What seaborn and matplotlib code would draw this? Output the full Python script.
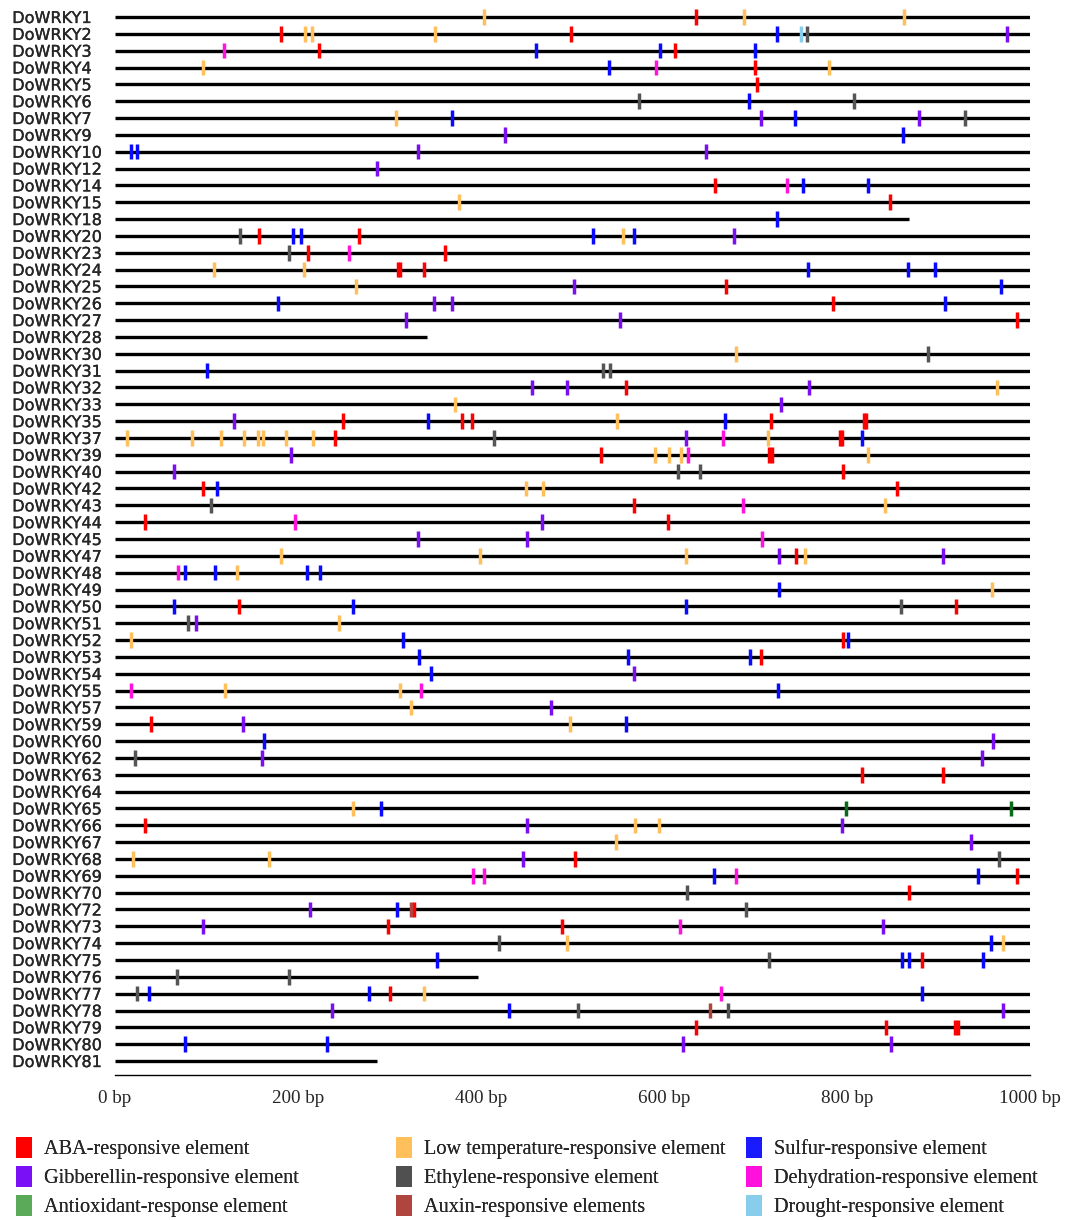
import numpy as np
import pandas as pd
import matplotlib
matplotlib.use("Agg")
import matplotlib.pyplot as plt
import matplotlib.patheffects as pe
from matplotlib.patches import Patch
import seaborn as sns

sns.set_style("white")
plt.rcParams['font.family'] = ['Liberation Serif', 'DejaVu Serif']

genes = [1, 2, 3, 4, 5, 6, 7, 9, 10, 12, 14, 15, 18, 20, 23, 24, 25, 26, 27, 28,
         30, 31, 32, 33, 35, 37, 39, 40, 42, 43, 44, 45, 47, 48, 49, 50, 51, 52,
         53, 54, 55, 57, 59, 60, 62, 63, 64, 65, 66, 67, 68, 69, 70, 72, 73, 74,
         75, 76, 77, 78, 79, 80, 81]
# promoter length (bp), 1000 unless listed
short_len = {18: 868, 28: 341, 76: 397, 81: 286}

# element positions (bp) per gene
aba = {1: [635], 2: [181, 498], 3: [223, 612], 4: [699], 5: [702], 14: [656],
       15: [847], 20: [157, 267], 23: [211, 361], 24: [309, 312, 338], 25: [668],
       26: [785], 27: [986], 32: [558], 35: [249, 379, 390, 717, 819, 821],
       37: [240, 792, 795], 39: [531, 715, 718], 40: [796], 42: [96, 855],
       43: [567], 44: [33, 604], 47: [744], 50: [136, 919], 52: [796], 53: [706],
       59: [39], 63: [816, 905], 66: [33], 68: [503], 69: [986], 70: [868],
       72: [327], 73: [298, 488], 75: [882], 77: [301], 79: [635, 843, 918, 921]}
low_temp = {1: [403, 687, 862], 2: [208, 215, 350], 4: [96, 780], 7: [307],
            15: [376], 20: [555], 24: [108, 207], 25: [263], 30: [679], 32: [964],
            33: [372], 35: [549],
            37: [13, 84, 116, 141, 156, 162, 187, 216, 714],
            39: [590, 606, 619, 823], 42: [449, 468], 43: [841],
            47: [181, 399, 624, 754], 48: [133], 49: [958], 51: [245], 52: [17],
            55: [120, 312], 57: [323], 59: [497], 65: [260], 66: [568, 595],
            67: [548], 68: [20, 168], 74: [494, 970], 77: [338]}
sulfur = {2: [723], 3: [460, 596, 699], 4: [540], 6: [693], 7: [368, 743], 9: [861],
          10: [17, 24], 14: [752, 823], 18: [724], 20: [194, 203, 522, 567],
          24: [757, 867, 896], 25: [968], 26: [178, 907], 31: [100], 35: [342, 667],
          37: [816], 42: [112], 48: [77, 109, 210, 224], 49: [726],
          50: [64, 260, 624], 52: [315, 801], 53: [332, 561, 694], 54: [345],
          55: [725], 59: [558], 60: [163], 65: [291], 69: [655, 943], 72: [308],
          74: [957], 75: [352, 860, 868, 949], 77: [37, 278, 882], 78: [431],
          80: [77, 232]}
gibberellin = {2: [975], 7: [706, 879], 9: [426], 10: [331, 646], 12: [286], 20: [676],
               25: [502], 26: [349, 368], 27: [318, 552], 32: [456, 494, 759],
               33: [728], 35: [130], 37: [624], 39: [192], 40: [64], 44: [467],
               45: [331, 450], 47: [726, 905], 51: [89], 54: [567], 57: [477],
               59: [140], 60: [960], 62: [161, 948], 66: [450, 795], 67: [936],
               68: [446], 72: [213], 73: [96, 839], 78: [237, 971], 80: [621, 848]}
ethylene = {2: [756], 6: [573, 808], 7: [929], 20: [137], 23: [190], 30: [888],
            31: [533, 541], 37: [414], 40: [615, 639], 43: [105], 50: [859],
            51: [80], 62: [22], 68: [966], 70: [625], 72: [690], 74: [420],
            75: [715], 76: [68, 190], 77: [24], 78: [506, 670]}
dehydration = {3: [119], 4: [591], 14: [734], 23: [256], 37: [664], 39: [626],
               43: [686], 44: [197], 45: [707], 48: [69], 55: [17, 334],
               69: [391, 403, 679], 73: [618], 77: [662]}
antioxidant = {65: [799, 979]}
auxin = {72: [323], 78: [650]}
drought = {2: [750]}

element_names = ["ABA-responsive element", "Low temperature-responsive element",
                 "Sulfur-responsive element", "Gibberellin-responsive element",
                 "Ethylene-responsive element", "Dehydration-responsive element",
                 "Antioxidant-response element", "Auxin-responsive elements",
                 "Drought-responsive element"]
element_sites = [aba, low_temp, sulfur, gibberellin, ethylene, dehydration,
                 antioxidant, auxin, drought]
legend_colors = ["#ff0000", "#ffc05c", "#1a1aff", "#7a10f5", "#505050",
                 "#ff10dc", "#5aaa5a", "#b0443e", "#88cdeb"]
mark_colors = ["#ff0000", "#ffbf5a", "#0a0aff", "#7b0ff2", "#555555",
               "#ff14dd", "#0b6a1a", "#b0443e", "#88cdeb"]

# ---- tidy table ----
row_of = {g: i for i, g in enumerate(genes)}
recs = []
for name, sites in zip(element_names, element_sites):
    for g, plist in sites.items():
        for p in plist:
            recs.append((row_of[g], p, name))
df = pd.DataFrame(recs, columns=["row", "pos", "element"])
gene_df = pd.DataFrame({"row": range(len(genes)),
                        "length": [short_len.get(g, 1000) for g in genes]})

W, H = 1075, 1220
fig = plt.figure(figsize=(W / 100, H / 100), dpi=100)
ax = fig.add_axes([115 / W, 1 - 1075 / H, 915 / W, (1075 - 6.9) / H])

ax.hlines(gene_df["row"], 0, gene_df["length"], color="black", lw=2.4, zorder=1)
sns.scatterplot(data=df, x="pos", y="row", hue="element",
                palette=dict(zip(element_names, mark_colors)),
                marker="|", s=125, linewidth=2.5, legend=False, ax=ax, zorder=3)

ax.set_xlim(0, 1000)
ax.set_ylim(62.83, -0.6)
ax.set_xticks(range(0, 1001, 200), [f"{v} bp" for v in range(0, 1001, 200)])
ax.set_yticks(range(len(genes)), [f"DoWRKY{g}" for g in genes])
for lab in ax.get_yticklabels():
    lab.set_fontfamily("DejaVu Sans")
    lab.set_fontsize(11.6)
    lab.set_horizontalalignment("left")
    lab.set_path_effects([pe.withStroke(linewidth=0.2, foreground="#111111")])
ax.tick_params(axis="y", length=0, pad=74)
ax.tick_params(axis="x", length=5, width=1, direction="out", labelsize=13.8,
               pad=6, color="black")
ax.set_xlabel("")
ax.set_ylabel("")
for sp in ["top", "right", "left"]:
    ax.spines[sp].set_visible(False)
ax.spines["bottom"].set_color("black")
ax.spines["bottom"].set_linewidth(1)

# legend in three columns
col_x = [16 / W, 396 / W, 746 / W]
handles = [Patch(facecolor=c, edgecolor="none") for c in legend_colors]
for ci in range(3):
    idx = [ci + 3 * r for r in range(3)]
    leg = fig.legend([handles[i] for i in idx], [element_names[i] for i in idx],
                     loc="upper left", bbox_to_anchor=(col_x[ci], 1 - 1137 / H),
                     frameon=False, fontsize=14.6, handlelength=0.8,
                     handleheight=1.2, handletextpad=0.58, labelspacing=0.34,
                     borderaxespad=0, borderpad=0)
    fig.add_artist(leg)

fig.savefig("out.png", dpi=100)
